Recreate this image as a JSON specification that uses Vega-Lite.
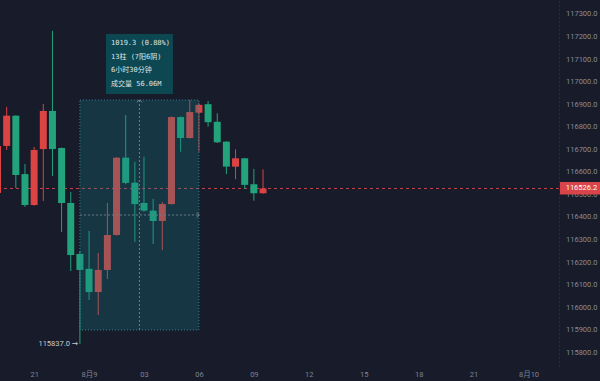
{
  "$schema": "https://vega.github.io/schema/vega-lite/v6.json",
  "width": 559,
  "height": 366,
  "autosize": {"type": "none"},
  "padding": {"left": 0, "top": 0, "right": 41, "bottom": 15},
  "background": "#171b2a",
  "config": {
    "view": {"stroke": null},
    "axis": {"labelFont": "Roboto", "labelFontSize": 7.5, "grid": false, "ticks": false, "title": null}
  },
  "data": {
    "values": [
      {"t": "2025-08-08T19:00:00Z", "open": 116506, "high": 116725, "low": 116495, "close": 116715},
      {"t": "2025-08-08T19:30:00Z", "open": 116715, "high": 116888, "low": 116697, "close": 116849},
      {"t": "2025-08-08T20:00:00Z", "open": 116849, "high": 116851, "low": 116528, "close": 116586},
      {"t": "2025-08-08T20:30:00Z", "open": 116590, "high": 116635, "low": 116444, "close": 116453},
      {"t": "2025-08-08T21:00:00Z", "open": 116453, "high": 116710, "low": 116450, "close": 116697},
      {"t": "2025-08-08T21:30:00Z", "open": 116701, "high": 116901, "low": 116471, "close": 116870},
      {"t": "2025-08-08T22:00:00Z", "open": 116870, "high": 117225, "low": 116582, "close": 116701},
      {"t": "2025-08-08T22:30:00Z", "open": 116706, "high": 116708, "low": 116333, "close": 116462},
      {"t": "2025-08-08T23:00:00Z", "open": 116462, "high": 116511, "low": 116160, "close": 116231},
      {"t": "2025-08-08T23:30:00Z", "open": 116236, "high": 116249, "low": 115837, "close": 116165},
      {"t": "2025-08-09T00:00:00Z", "open": 116170, "high": 116338, "low": 116032, "close": 116067},
      {"t": "2025-08-09T00:30:00Z", "open": 116067, "high": 116240, "low": 115965, "close": 116165},
      {"t": "2025-08-09T01:00:00Z", "open": 116165, "high": 116462, "low": 116125, "close": 116320},
      {"t": "2025-08-09T01:30:00Z", "open": 116320, "high": 116665, "low": 116318, "close": 116663},
      {"t": "2025-08-09T02:00:00Z", "open": 116663, "high": 116852, "low": 116545, "close": 116551},
      {"t": "2025-08-09T02:30:00Z", "open": 116552, "high": 116645, "low": 116290, "close": 116457},
      {"t": "2025-08-09T03:00:00Z", "open": 116462, "high": 116667, "low": 116423, "close": 116428},
      {"t": "2025-08-09T03:30:00Z", "open": 116428, "high": 116480, "low": 116280, "close": 116382},
      {"t": "2025-08-09T04:00:00Z", "open": 116382, "high": 116466, "low": 116253, "close": 116457},
      {"t": "2025-08-09T04:30:00Z", "open": 116457, "high": 116845, "low": 116455, "close": 116843},
      {"t": "2025-08-09T05:00:00Z", "open": 116843, "high": 116845, "low": 116689, "close": 116750},
      {"t": "2025-08-09T05:30:00Z", "open": 116750, "high": 116919, "low": 116748, "close": 116865},
      {"t": "2025-08-09T06:00:00Z", "open": 116862, "high": 116905, "low": 116689, "close": 116897},
      {"t": "2025-08-09T06:30:00Z", "open": 116900, "high": 116914, "low": 116800, "close": 116820},
      {"t": "2025-08-09T07:00:00Z", "open": 116822, "high": 116860, "low": 116728, "close": 116731},
      {"t": "2025-08-09T07:30:00Z", "open": 116734, "high": 116735, "low": 116590, "close": 116623},
      {"t": "2025-08-09T08:00:00Z", "open": 116623, "high": 116700, "low": 116567, "close": 116660},
      {"t": "2025-08-09T08:30:00Z", "open": 116660, "high": 116662, "low": 116524, "close": 116542},
      {"t": "2025-08-09T09:00:00Z", "open": 116545, "high": 116613, "low": 116472, "close": 116505},
      {"t": "2025-08-09T09:30:00Z", "open": 116505, "high": 116611, "low": 116503, "close": 116526.2}
    ]
  },
  "encoding": {
    "x": {
      "field": "t", "type": "temporal",
      "scale": {"type": "utc", "padding": 0, "domain": [
        {"year": 2025, "month": 8, "date": 8, "hours": 19, "minutes": 8, "seconds": 8, "utc": true},
        {"year": 2025, "month": 8, "date": 10, "hours": 1, "minutes": 39, "seconds": 54, "utc": true}
      ]},
      "axis": {
        "orient": "bottom", "domain": false, "labelColor": "#7f8492", "labelPadding": 4,
        "labelFont": "Roboto, Noto Sans CJK SC",
        "values": [
          {"year": 2025, "month": 8, "date": 8, "hours": 21, "utc": true},
          {"year": 2025, "month": 8, "date": 9, "hours": 0, "utc": true},
          {"year": 2025, "month": 8, "date": 9, "hours": 3, "utc": true},
          {"year": 2025, "month": 8, "date": 9, "hours": 6, "utc": true},
          {"year": 2025, "month": 8, "date": 9, "hours": 9, "utc": true},
          {"year": 2025, "month": 8, "date": 9, "hours": 12, "utc": true},
          {"year": 2025, "month": 8, "date": 9, "hours": 15, "utc": true},
          {"year": 2025, "month": 8, "date": 9, "hours": 18, "utc": true},
          {"year": 2025, "month": 8, "date": 9, "hours": 21, "utc": true},
          {"year": 2025, "month": 8, "date": 10, "hours": 0, "utc": true}
        ],
        "labelExpr": "utchours(datum.value) == 0 ? (utcmonth(datum.value) + 1) + '月' + utcdate(datum.value) : utcFormat(datum.value, '%H')"
      }
    },
    "y": {
      "type": "quantitative",
      "scale": {"domain": [115739, 117362], "zero": false, "nice": false, "padding": 0},
      "axis": {
        "orient": "right", "format": ".1f", "labelColor": "#878b98", "labelPadding": 6.5,
        "domain": true, "domainColor": "#3b4052", "domainDash": [1, 3],
        "values": [115800, 115900, 116000, 116100, 116200, 116300, 116400, 116500, 116600, 116700, 116800, 116900, 117000, 117100, 117200, 117300]
      }
    }
  },
  "layer": [
    {
      "data": {"values": [{"p": 116526.2}]},
      "mark": {"type": "rule", "color": "#c9404a", "strokeDash": [3, 3], "strokeWidth": 1},
      "encoding": {"x": null, "y": {"field": "p", "type": "quantitative"}}
    },
    {
      "mark": {"type": "rule", "strokeWidth": 1, "clip": true},
      "encoding": {
        "y": {"field": "low", "type": "quantitative"},
        "y2": {"field": "high"},
        "color": {"condition": {"test": "datum.close >= datum.open", "value": "#dc4343"}, "value": "#22a37b"}
      }
    },
    {
      "mark": {"type": "bar", "size": 7, "clip": true},
      "encoding": {
        "y": {"field": "open", "type": "quantitative"},
        "y2": {"field": "close"},
        "color": {"condition": {"test": "datum.close >= datum.open", "value": "#dc4343"}, "value": "#22a37b"}
      }
    },
    {
      "data": {"values": [{"t1": "2025-08-08T23:30:00Z", "t2": "2025-08-09T06:00:00Z", "p1": 115898.7, "p2": 116918.6}]},
      "mark": {"type": "rect", "fill": "#17808e", "fillOpacity": 0.27, "stroke": "#3a8a96", "strokeOpacity": 0.9, "strokeDash": [1, 2], "strokeWidth": 1},
      "encoding": {
        "x": {"field": "t1", "type": "temporal"},
        "x2": {"field": "t2"},
        "y": {"field": "p1", "type": "quantitative"},
        "y2": {"field": "p2"}
      }
    },
    {
      "data": {"values": [{"t": "2025-08-09T02:45:00Z", "p1": 115898.7, "p2": 116918.6}]},
      "mark": {"type": "rule", "color": "#6d7d88", "strokeDash": [2, 2], "strokeWidth": 1},
      "encoding": {
        "x": {"field": "t", "type": "temporal"},
        "y": {"field": "p1", "type": "quantitative"},
        "y2": {"field": "p2"}
      }
    },
    {
      "data": {"values": [{"t1": "2025-08-08T23:30:00Z", "t2": "2025-08-09T06:00:00Z", "p": 116408.7}]},
      "mark": {"type": "rule", "color": "#6d7d88", "strokeDash": [2, 2], "strokeWidth": 1},
      "encoding": {
        "x": {"field": "t1", "type": "temporal"},
        "x2": {"field": "t2"},
        "y": {"field": "p", "type": "quantitative"}
      }
    },
    {
      "data": {"values": [{"t": "2025-08-09T02:45:00Z", "p": 116915}]},
      "mark": {"type": "point", "shape": "M-1,0.6L0,-0.4L1,0.6", "filled": false, "size": 25, "color": "#7d8c96", "strokeWidth": 1, "opacity": 1},
      "encoding": {
        "x": {"field": "t", "type": "temporal"},
        "y": {"field": "p", "type": "quantitative"}
      }
    },
    {
      "data": {"values": [{"t": "2025-08-09T05:58:00Z", "p": 116408.7}]},
      "mark": {"type": "point", "shape": "M-0.6,-1L0.4,0L-0.6,1", "filled": false, "size": 25, "color": "#7d8c96", "strokeWidth": 1, "opacity": 1},
      "encoding": {
        "x": {"field": "t", "type": "temporal"},
        "y": {"field": "p", "type": "quantitative"}
      }
    },
    {
      "data": {"values": [{"t1": "2025-08-09T00:55:29Z", "t2": "2025-08-09T04:34:56Z", "p1": 116945.2, "p2": 117211.3}]},
      "mark": {"type": "rect", "fill": "#0d4752"},
      "encoding": {
        "x": {"field": "t1", "type": "temporal"},
        "x2": {"field": "t2"},
        "y": {"field": "p1", "type": "quantitative"},
        "y2": {"field": "p2"}
      }
    },
    {
      "data": {"values": [
        {"t": "2025-08-09T01:11:52Z", "p": 117171, "s": "1019.3 (0.88%)"},
        {"t": "2025-08-09T01:11:52Z", "p": 117110, "s": "13柱 (7阳6阴)"},
        {"t": "2025-08-09T01:11:52Z", "p": 117050, "s": "6小时30分钟"},
        {"t": "2025-08-09T01:11:52Z", "p": 116989, "s": "成交量 56.06M"}
      ]},
      "mark": {"type": "text", "align": "left", "baseline": "middle", "font": "DejaVu Sans Mono, Noto Sans CJK SC", "fontSize": 7, "color": "#dfe4e6"},
      "encoding": {
        "x": {"field": "t", "type": "temporal"},
        "y": {"field": "p", "type": "quantitative"},
        "text": {"field": "s"}
      }
    },
    {
      "data": {"values": [{"t": "2025-08-08T23:24:00Z", "p": 115837, "s": "115837.0 →"}]},
      "mark": {"type": "text", "align": "right", "baseline": "middle", "font": "Roboto, DejaVu Sans", "fontSize": 7.5, "color": "#c9cdd5"},
      "encoding": {
        "x": {"field": "t", "type": "temporal"},
        "y": {"field": "p", "type": "quantitative"},
        "text": {"field": "s"}
      }
    },
    {
      "data": {"values": [{"t1": "2025-08-10T01:43:12Z", "t2": "2025-08-10T03:56:00Z", "p1": 116499.6, "p2": 116555}]},
      "mark": {"type": "rect", "fill": "#d9434a", "clip": false},
      "encoding": {
        "x": {"field": "t1", "type": "temporal"},
        "x2": {"field": "t2"},
        "y": {"field": "p1", "type": "quantitative"},
        "y2": {"field": "p2"}
      }
    },
    {
      "data": {"values": [{"t": "2025-08-10T02:01:48Z", "p": 116526.2, "s": "116526.2"}]},
      "mark": {"type": "text", "align": "left", "baseline": "middle", "font": "Roboto", "fontSize": 7.5, "color": "#ffffff", "clip": false},
      "encoding": {
        "x": {"field": "t", "type": "temporal"},
        "y": {"field": "p", "type": "quantitative"},
        "text": {"field": "s"}
      }
    }
  ]
}
